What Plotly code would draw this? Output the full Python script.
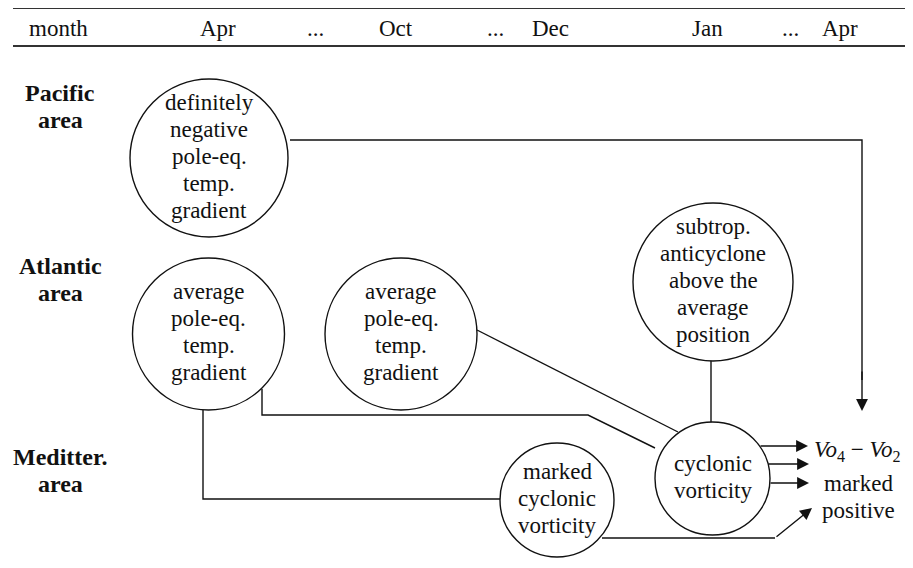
import plotly.graph_objects as go

W, H = 913, 568
OFF = 8  # page body margin in the browser
FONT = "Liberation Serif, Times New Roman, Times, serif"

# ---- text content ----
month_labels = ["month", "Apr", "...", "Oct", "...", "Dec", "Jan", "...", "Apr"]
area_labels = [["Pacific", "area"], ["Atlantic", "area"], ["Meditter.", "area"]]
node_names = ["pac_grad", "atl_grad1", "atl_grad2", "subtrop", "cyc", "med_cyc"]
node_texts = [
    ["definitely", "negative", "pole-eq.", "temp.", "gradient"],
    ["average", "pole-eq.", "temp.", "gradient"],
    ["average", "pole-eq.", "temp.", "gradient"],
    ["subtrop.", "anticyclone", "above the", "average", "position"],
    ["cyclonic", "vorticity"],
    ["marked", "cyclonic", "vorticity"],
]
result_lines = ["<i>Vo</i><sub>4</sub> \u2212 <i>Vo</i><sub>2</sub>", "marked", "positive"]

# ---- layout geometry (pixel space of the picture) ----
month_x = [58, 218, 315, 396, 495, 550, 707, 790, 840]
month_y = 28
area_x = 60
area_y = [(93, 120), (266, 293), (457, 484)]
node_cx = [209, 208.5, 401, 713, 712.5, 557]
node_cy = [158, 334, 334, 282, 478.5, 500]
node_rx = [79, 76, 76, 80, 57.5, 57]
node_ry = [79, 76, 76, 79, 56.5, 57]
line_gap = 27

fig = go.Figure()
fig.add_trace(go.Scatter(x=[OFF, W], y=[OFF, H], mode="markers",
                         marker=dict(opacity=0), hoverinfo="skip", showlegend=False))

shapes = []
annotations = []
LW = 1.4
LC = "#111111"
TXT = dict(family=FONT, size=23, color="#111")
BOLD = dict(family=FONT, size=24, color="#111")

# header rules
for yy in (8, 46):
    shapes.append(dict(type="line", x0=13, x1=W, y0=yy, y1=yy,
                       line=dict(color="#333333", width=2)))
for lab, xx in zip(month_labels, month_x):
    annotations.append(dict(x=xx, y=month_y, text=lab, showarrow=False, font=TXT,
                            xanchor="center", yanchor="middle"))

# area labels
for labs, ys in zip(area_labels, area_y):
    for lab, yy in zip(labs, ys):
        annotations.append(dict(x=area_x, y=yy, text="<b>%s</b>" % lab, showarrow=False,
                                font=BOLD, xanchor="center", yanchor="middle"))

# nodes
for txt, cx, cy, rx, ry in zip(node_texts, node_cx, node_cy, node_rx, node_ry):
    shapes.append(dict(type="circle", x0=cx - rx, x1=cx + rx, y0=cy - ry, y1=cy + ry,
                       line=dict(color=LC, width=LW), fillcolor="rgba(0,0,0,0)"))
    n = len(txt)
    for i, t in enumerate(txt):
        yy = cy - 2 + (i - (n - 1) / 2) * line_gap
        annotations.append(dict(x=cx, y=yy, text=t, showarrow=False, font=TXT,
                                xanchor="center", yanchor="middle"))

# connectors (polylines without arrow)
polylines = [
    [(290, 140), (862, 140), (862, 380)],
    [(477, 330), (678, 432)],
    [(262, 389), (262, 415), (588, 415), (655, 448)],
    [(203, 410), (203, 499), (500, 499)],
    [(711, 361), (711, 422)],
    [(602, 538), (775, 538)],
]
for pl in polylines:
    d = "M %s,%s " % pl[0] + " ".join("L %s,%s" % p for p in pl[1:])
    shapes.append(dict(type="path", path=d, line=dict(color=LC, width=LW)))

# arrows (tail -> tip)
arrows = [
    ((862, 370), (862, 411)),
    ((759, 446), (808, 446)),
    ((767, 464), (809, 464)),
    ((769, 483), (809, 483)),
    ((775, 538), (812, 508)),
]
for (tx, ty), (hx, hy) in arrows:
    annotations.append(dict(x=hx, y=hy, ax=tx, ay=ty, xref="x", yref="y",
                            axref="x", ayref="y", showarrow=True, arrowhead=2,
                            arrowsize=1.7, arrowwidth=LW, arrowcolor=LC, text="",
                            standoff=0))

# result text
res_pos = [(857, 451), (858, 483), (858, 510)]
for t, (xx, yy) in zip(result_lines, res_pos):
    annotations.append(dict(x=xx, y=yy, text=t, showarrow=False, font=TXT,
                            xanchor="center", yanchor="middle"))

fig.update_layout(
    width=W - OFF, height=H - OFF, margin=dict(l=0, r=0, t=0, b=0),
    plot_bgcolor="white", paper_bgcolor="white",
    xaxis=dict(range=[OFF, W], visible=False, fixedrange=True),
    yaxis=dict(range=[H, OFF], visible=False, fixedrange=True),
    shapes=shapes, annotations=annotations, showlegend=False,
)
fig.write_html("out.html", config={"displayModeBar": False})
